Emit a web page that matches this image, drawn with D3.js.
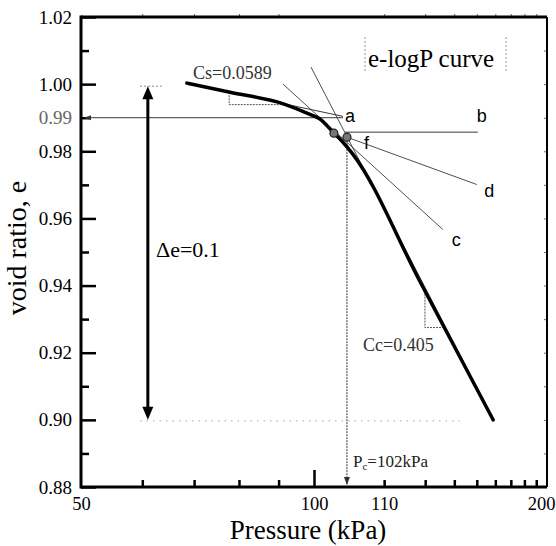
<!DOCTYPE html>
<html>
<head>
<meta charset="utf-8">
<script src="https://cdn.jsdelivr.net/npm/d3@7"></script>
<style>
  html, body { margin: 0; padding: 0; background: #fff; }
  svg { display: block; }
</style>
</head>
<body>
<svg id="chart" width="556" height="546"></svg>
<script>
// ---------------- DATA ----------------
// x axis (log pressure) tick values and labels as printed on the figure
const xTickValues = [50, 100, 123.2, 200];
const xTickLabels = ["50", "100", "110", "200"];
const xMinorTicks = [60, 70, 80, 90, 123.2, 139.2, 151.8, 162.3, 171.5, 179.6, 187.0, 193.7];
const xMajorTicks = [100];
// y axis
const yMajorTicks = [0.88, 0.90, 0.92, 0.94, 0.96, 0.98, 1.00, 1.02];
const yMinorTicks = [0.89, 0.91, 0.93, 0.95, 0.97, 0.99, 1.01];
const yTickLabels = ["0.88", "0.90", "0.92", "0.94", "0.96", "0.98", "1.00", "1.02"];

// e-logP curve (thick)
const curveP = [68.5, 77.9, 91.7, 98.8, 101.8, 106.1, 108.7, 112.3, 137.0, 170.4];
const curveE = [1.0003, 0.9976, 0.9940, 0.9910, 0.9896, 0.9854, 0.9830, 0.9791, 0.9413, 0.9000];

// construction lines
const csLineP = [68.5, 109.0];   const csLineE = [1.0003, 0.9904];
const e099LineP = [50.6, 109.0]; const e099LineE = [0.99, 0.99];
const bLineP = [109.7, 162.8];   const bLineE = [0.9857, 0.9857];
const dLineP = [110.3, 162.3];   const dLineE = [0.9842, 0.9701];
const cLineP = [91.2, 146.7];    const cLineE = [1.0000, 0.9567];
const ccLineP = [99.1, 158.0];   const ccLineE = [1.0051, 0.9149];
const pcLineP = [110.3, 110.3];  const pcLineE = [0.9842, 0.8806];
const csTriP = [77.7, 77.7, 91.7];    const csTriE = [0.9976, 0.9939, 0.9939];
const ccTriP = [139.1, 139.1, 147.6]; const ccTriE = [0.9385, 0.9275, 0.9275];
const deltaArrowP = [61.0, 61.0];     const deltaArrowE = [0.9994, 0.9000];
const dot100P = [59.6, 63.6];         const dot100E = [0.9994, 0.9994];
const dot090P = [59.6, 154.3];        const dot090E = [0.8997, 0.8997];
const markerP = [106.1, 110.3];       const markerE = [0.9854, 0.9842];

// point labels
const pointLabels = ["a", "b", "f", "d", "c"];
const pointLabelP = [109.7, 162.3, 116.0, 165.9, 150.7];
const pointLabelE = [0.9887, 0.9887, 0.9806, 0.9663, 0.9519];

// ---------------- DRAW ----------------
const svg = d3.select("#chart");
const L = 81, R = 547, T = 17, B = 487;
const x = d3.scaleLog().domain([50, 200]).range([L, R]);
const y = d3.scaleLinear().domain([0.88, 1.02]).range([B, T]);
const serif = "'Liberation Serif', 'Times New Roman', serif";
const sans = "'Liberation Sans', Arial, sans-serif";

const line = d3.line().x(d => x(d[0])).y(d => y(d[1]));
const zip = (a, b) => a.map((v, i) => [v, b[i]]);

function seg(P, E, opts) {
  const p = svg.append("path")
    .attr("d", line(zip(P, E)))
    .attr("fill", "none")
    .attr("stroke", opts.stroke || "#111")
    .attr("stroke-width", opts.width || 0.8);
  if (opts.dash) p.attr("stroke-dasharray", opts.dash);
  return p;
}

// --- axes ticks
const gx = svg.append("g").attr("transform", `translate(0,${B})`);
gx.call(d3.axisBottom(x).tickValues(xMinorTicks).tickSize(-7).tickFormat(""));
gx.append("g").call(d3.axisBottom(x).tickValues(xMajorTicks).tickSize(-17).tickFormat(""));
gx.selectAll(".domain").remove();
gx.selectAll("line").attr("stroke", "#000").attr("stroke-width", 2.5);

const gxl = svg.append("g").attr("transform", `translate(0,${B})`)
  .call(d3.axisBottom(x).tickValues(xTickValues).tickSize(0).tickFormat((d, i) => xTickLabels[i]));
gxl.selectAll(".domain").remove();
gxl.selectAll("text").attr("y", 23).attr("dy", 0)
  .attr("font-family", serif).attr("font-size", 18.5).attr("fill", "#000");
// keep the last label inside the picture, as in the reference
gxl.selectAll("text").filter(d => d === 200).attr("text-anchor", "end").attr("x", 555 - R);

// top tiny ticks
const gt = svg.append("g").attr("transform", `translate(0,${T})`)
  .call(d3.axisTop(x).tickValues(xMinorTicks).tickSize(3).tickFormat(""));
gt.selectAll(".domain").remove();
gt.selectAll("line").attr("stroke", "#666").attr("stroke-width", 1);

const gy = svg.append("g").attr("transform", `translate(${L},0)`);
gy.call(d3.axisLeft(y).tickValues(yMajorTicks).tickSize(-15).tickPadding(9)
  .tickFormat((d, i) => yTickLabels[i]));
gy.append("g").call(d3.axisLeft(y).tickValues(yMinorTicks).tickSize(-8).tickFormat(""));
gy.selectAll(".domain").remove();
gy.selectAll("line").attr("stroke", "#000").attr("stroke-width", 2.5);
gy.selectAll("text").attr("font-family", serif).attr("font-size", 19).attr("fill", "#000");

// right tiny ticks
const gr = svg.append("g").attr("transform", `translate(${R},0)`)
  .call(d3.axisRight(y).tickValues(yMajorTicks.concat(yMinorTicks)).tickSize(-3).tickFormat(""));
gr.selectAll(".domain").remove();
gr.selectAll("line").attr("stroke", "#666").attr("stroke-width", 1);

// 0.99 special label
svg.append("text").attr("x", L - 9).attr("y", y(0.99)).attr("dy", "0.32em")
  .attr("text-anchor", "end").attr("font-family", serif).attr("font-size", 19)
  .attr("fill", "#666").text("0.99");

// frame
svg.append("line").attr("x1", L).attr("x2", R).attr("y1", T).attr("y2", T).attr("stroke", "#000").attr("stroke-width", 3);
svg.append("line").attr("x1", R).attr("x2", R).attr("y1", T).attr("y2", B).attr("stroke", "#000").attr("stroke-width", 2);
svg.append("line").attr("x1", L).attr("x2", L).attr("y1", T - 1.5).attr("y2", B + 1.5).attr("stroke", "#000").attr("stroke-width", 3);
svg.append("line").attr("x1", L).attr("x2", R).attr("y1", B).attr("y2", B).attr("stroke", "#000").attr("stroke-width", 3);

// --- dotted guide lines
seg(dot090P, dot090E, { stroke: "#aaa", width: 1, dash: "1.5,5" });
seg(dot100P, dot100E, { stroke: "#888", width: 1, dash: "2,2" });

// --- construction lines
seg(e099LineP, e099LineE, { stroke: "#222", width: 0.9 });
seg(csLineP, csLineE, { stroke: "#222", width: 0.9 });
seg(bLineP, bLineE, { stroke: "#222", width: 0.9 });
seg(dLineP, dLineE, { stroke: "#222", width: 0.8 });
seg(cLineP, cLineE, { stroke: "#222", width: 0.8 });
seg(ccLineP, ccLineE, { stroke: "#222", width: 0.8 });
seg(pcLineP, pcLineE, { stroke: "#333", width: 1, dash: "2,1" });
seg(csTriP, csTriE, { stroke: "#444", width: 0.9, dash: "2,1" });
seg(ccTriP, ccTriE, { stroke: "#444", width: 0.9, dash: "2,1" });

// arrowheads
function arrowHead(px, py, dir, len, half, fill) {
  let pts;
  if (dir === "left") pts = [[px, py], [px + len, py - half], [px + len, py + half]];
  if (dir === "down") pts = [[px, py], [px - half, py - len], [px + half, py - len]];
  if (dir === "up") pts = [[px, py], [px - half, py + len], [px + half, py + len]];
  svg.append("path").attr("d", "M" + pts.map(p => p.join(",")).join("L") + "Z")
    .attr("fill", fill || "#000");
}
arrowHead(x(e099LineP[0]) - 1, y(0.99), "left", 7, 2.5, "#333");
arrowHead(x(pcLineP[1]), y(pcLineE[1]), "down", 8, 3, "#333");

// --- delta e double arrow
const ax = x(deltaArrowP[0]);
const ayTop = y(deltaArrowE[0]), ayBot = y(deltaArrowE[1]);
svg.append("line").attr("x1", ax).attr("x2", ax).attr("y1", ayTop + 10).attr("y2", ayBot - 10)
  .attr("stroke", "#000").attr("stroke-width", 3);
arrowHead(ax, ayTop, "up", 13, 5.5);
arrowHead(ax, ayBot, "down", 13, 5.5);

// --- main curve
svg.append("path")
  .attr("d", d3.line().x(d => x(d[0])).y(d => y(d[1])).curve(d3.curveMonotoneX)(zip(curveP, curveE)))
  .attr("fill", "none").attr("stroke", "#000").attr("stroke-width", 3.5)
  .attr("stroke-linecap", "round").attr("stroke-linejoin", "round");

// markers
svg.selectAll(".mk").data(zip(markerP, markerE)).enter().append("circle")
  .attr("cx", d => x(d[0])).attr("cy", d => y(d[1])).attr("r", 4)
  .attr("fill", "#777").attr("stroke", "#222").attr("stroke-width", 1.2);

// --- point labels
svg.selectAll(".pl").data(pointLabels).enter().append("text")
  .attr("x", (d, i) => x(pointLabelP[i])).attr("y", (d, i) => y(pointLabelE[i]))
  .attr("font-family", sans).attr("font-size", 18).attr("fill", "#000").text(d => d);

// --- annotations
svg.append("text").attr("x", 193).attr("y", 79).attr("font-family", serif)
  .attr("font-size", 18).attr("fill", "#333").text("Cs=0.0589");
svg.append("text").attr("x", 363).attr("y", 351).attr("font-family", serif)
  .attr("font-size", 18).attr("fill", "#333").text("Cc=0.405");
const pc = svg.append("text").attr("x", 353).attr("y", 467).attr("font-family", serif)
  .attr("font-size", 17).attr("fill", "#222");
pc.append("tspan").text("P");
pc.append("tspan").attr("font-size", 11).attr("dy", 3).text("c");
pc.append("tspan").attr("dy", -3).text("=102kPa");

svg.append("text").attr("x", 156).attr("y", 257).attr("font-family", serif)
  .attr("font-size", 22).attr("fill", "#000").text("\u0394e=0.1");

// title box
svg.append("text").attr("x", 368).attr("y", 67).attr("font-family", serif)
  .attr("font-size", 25).attr("fill", "#000").text("e-logP curve");
[365, 506].forEach(xx => svg.append("line").attr("x1", xx).attr("x2", xx)
  .attr("y1", 37).attr("y2", 73).attr("stroke", "#999").attr("stroke-width", 1)
  .attr("stroke-dasharray", "2,2"));

// axis titles
svg.append("text").attr("x", 308).attr("y", 539).attr("text-anchor", "middle")
  .attr("font-family", serif).attr("font-size", 27).attr("fill", "#000").text("Pressure (kPa)");
svg.append("text").attr("transform", "translate(26,248) rotate(-90)").attr("text-anchor", "middle")
  .attr("font-family", serif).attr("font-size", 28).attr("fill", "#000").text("void ratio, e");
</script>
</body>
</html>
